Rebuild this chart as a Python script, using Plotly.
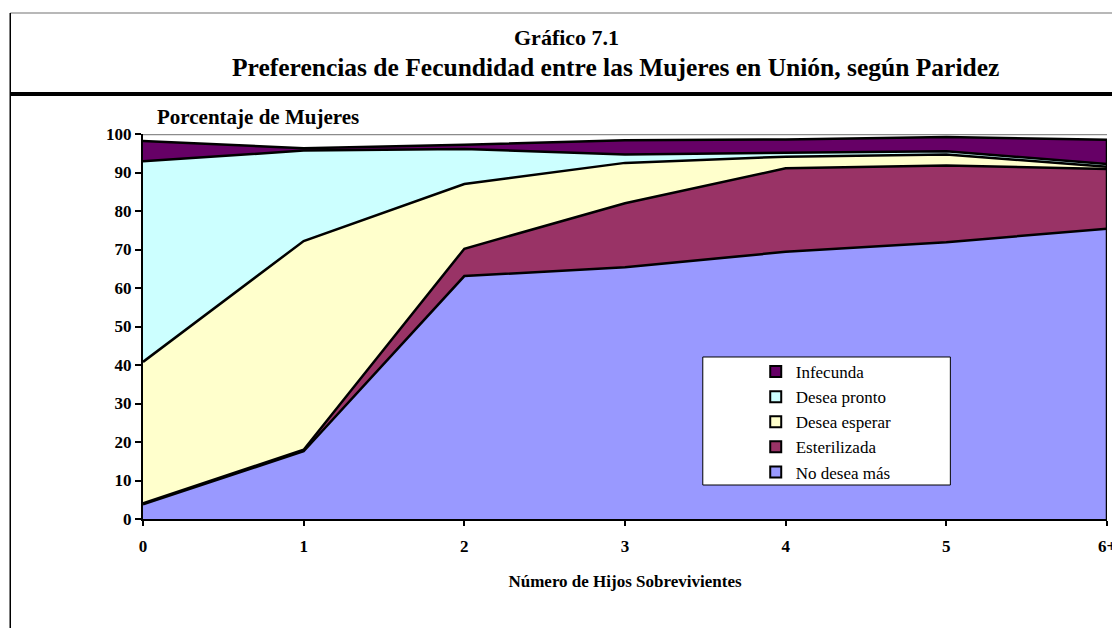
import plotly.graph_objects as go

# --- data (percent of women in union, by number of surviving children) ---
hijos = ["0", "1", "2", "3", "4", "5", "6+"]
no_desea_mas = [3.8, 17.6, 63.1, 65.4, 69.4, 71.9, 75.4]
esterilizada = [0.3, 0.4, 7.1, 16.6, 21.7, 19.9, 15.5]
desea_esperar = [36.7, 54.2, 16.8, 10.5, 3.0, 2.9, 0.6]
desea_pronto = [52.1, 23.5, 9.1, 2.2, 1.0, 0.8, 0.7]
infecunda = [5.3, 0.6, 1.1, 3.7, 3.5, 3.7, 6.3]

series = [
    ("No desea más", no_desea_mas, "#9999FF"),
    ("Esterilizada", esterilizada, "#993366"),
    ("Desea esperar", desea_esperar, "#FFFFCC"),
    ("Desea pronto", desea_pronto, "#CCFFFF"),
    ("Infecunda", infecunda, "#660066"),
]

SERIF = "Liberation Serif, Times New Roman, serif"

fig = go.Figure()

# stacked areas
for name, vals, color in series:
    fig.add_trace(
        go.Scatter(
            x=hijos,
            y=vals,
            mode="lines",
            stackgroup="one",
            fillcolor=color,
            line=dict(color="black", width=2.5),
            name=name,
            showlegend=False,
            hoverinfo="skip",
        )
    )

# legend-only traces (square swatches), top to bottom like the original
for name, vals, color in reversed(series):
    fig.add_trace(
        go.Scatter(
            x=[None],
            y=[None],
            mode="markers",
            marker=dict(symbol="square", size=11, color=color,
                        line=dict(color="black", width=2)),
            name=name,
        )
    )

# right edge of the stacked area
total_last = sum(s[1][-1] for s in series)
shapes = [
    dict(type="line", xref="x", yref="y", x0=6, x1=6, y0=0, y1=total_last,
         line=dict(color="black", width=2.5), layer="above"),
    # gray top border of plot area
    dict(type="line", xref="paper", yref="y", x0=0, x1=1, y0=100, y1=100,
         line=dict(color="#8c8c8c", width=2.5), layer="below"),
    # legend box
    dict(type="rect", xref="paper", yref="paper", x0=0.5807, x1=0.8375,
         y0=0.0883, y1=0.4208, fillcolor="white",
         line=dict(color="black", width=1), layer="above"),
    # page frame
    dict(type="line", xref="paper", yref="paper", x0=-0.1377, x1=1.01,
         y0=1.3143, y1=1.3143, line=dict(color="#a0a0a0", width=1.5)),
    dict(type="line", xref="paper", yref="paper", x0=-0.1377, x1=-0.1377,
         y0=1.3143, y1=-0.3, line=dict(color="black", width=1.5)),
    dict(type="line", xref="paper", yref="paper", x0=-0.1377, x1=1.01,
         y0=1.1039, y1=1.1039, line=dict(color="black", width=4)),
]

annotations = [
    dict(text="<b>Gráfico 7.1</b>", xref="paper", yref="paper",
         x=(566 - 142) / 966, y=(519 - 38) / 385, xanchor="center", yanchor="middle",
         showarrow=False, font=dict(family=SERIF, size=22, color="black")),
    dict(text="<b>Preferencias de Fecundidad entre las Mujeres en Unión, según Paridez</b>",
         xref="paper", yref="paper",
         x=(615 - 142) / 966, y=(519 - 68) / 385, xanchor="center", yanchor="middle",
         showarrow=False, font=dict(family=SERIF, size=25.5, color="black")),
    dict(text="<b>Porcentaje de Mujeres</b>", xref="paper", yref="paper",
         x=(154 - 142) / 966, y=(519 - 117) / 385, xanchor="left", yanchor="middle",
         showarrow=False, font=dict(family=SERIF, size=21, color="black")),
]

fig.update_layout(
    width=1120,
    height=628,
    margin=dict(l=143, r=4, t=134, b=109),
    paper_bgcolor="white",
    plot_bgcolor="white",
    font=dict(family=SERIF, color="black"),
    shapes=shapes,
    annotations=annotations,
    showlegend=True,
    legend=dict(
        x=(756 - 142) / 966,
        y=(519 - 354) / 385,
        xanchor="left",
        yanchor="top",
        bgcolor="rgba(0,0,0,0)",
        borderwidth=0,
        font=dict(family=SERIF, size=17, color="black"),
        traceorder="normal",
    ),
    xaxis=dict(
        type="category",
        range=[0, 6],
        showgrid=False,
        showline=True,
        linecolor="black",
        linewidth=2,
        ticks="outside",
        ticklen=5,
        tickcolor="black",
        tickwidth=1.5,
        ticklabelstandoff=6,
        tickfont=dict(family=SERIF, size=17, color="black", weight="bold"),
        title=dict(text="<b>Número de Hijos Sobrevivientes</b>",
                   font=dict(family=SERIF, size=17, color="black"), standoff=20),
        zeroline=False,
    ),
    yaxis=dict(
        range=[0, 100],
        dtick=10,
        showgrid=False,
        showline=True,
        linecolor="black",
        linewidth=2,
        ticks="outside",
        ticklen=6,
        tickcolor="black",
        tickwidth=1.5,
        tickfont=dict(family=SERIF, size=17, color="black", weight="bold"),
        zeroline=False,
    ),
)

# drop the default page margin / scrollbars so the figure fills the window
fig.write_html(
    "out.html",
    config={"displayModeBar": False},
    post_script=(
        "document.body.style.margin='0';"
        "document.body.style.overflow='hidden';"
        "document.documentElement.style.overflow='hidden';"
    ),
)
